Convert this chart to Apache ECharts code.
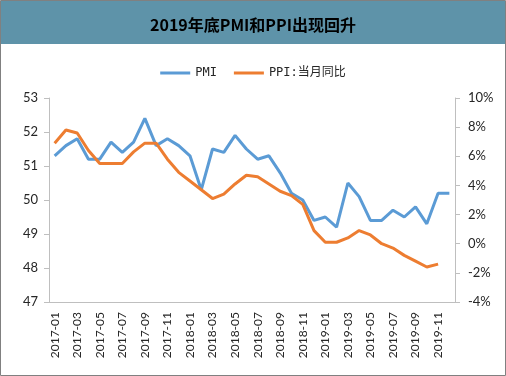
<!DOCTYPE html>
<html>
<head>
<meta charset="utf-8">
<script src="https://cdn.jsdelivr.net/npm/echarts@6/dist/echarts.min.js"></script>
<style>
  html, body { margin: 0; padding: 0; background: #fff; }
  #main { width: 506px; height: 376px; }
</style>
</head>
<body>
<div id="main"></div>
<script>
// months 2017-01 .. 2019-12
const months = []
for (let y = 2017; y <= 2019; y++) {
  for (let m = 1; m <= 12; m++) months.push(y + '-' + (m < 10 ? '0' + m : m))
}

const pmi = [
  51.3, 51.6, 51.8, 51.2, 51.2, 51.7, 51.4, 51.7, 52.4, 51.6, 51.8, 51.6,
  51.3, 50.3, 51.5, 51.4, 51.9, 51.5, 51.2, 51.3, 50.8, 50.2, 50.0, 49.4,
  49.5, 49.2, 50.5, 50.1, 49.4, 49.4, 49.7, 49.5, 49.8, 49.3, 50.2, 50.2
]

// PPI 当月同比 (%), ends at 2019-11
const ppi = [
  6.9, 7.8, 7.6, 6.4, 5.5, 5.5, 5.5, 6.3, 6.9, 6.9, 5.8, 4.9,
  4.3, 3.7, 3.1, 3.4, 4.1, 4.7, 4.6, 4.1, 3.6, 3.3, 2.7, 0.9,
  0.1, 0.1, 0.4, 0.9, 0.6, 0.0, -0.3, -0.8, -1.2, -1.6, -1.4
]

const chart = echarts.init(document.getElementById('main'))

const axisFont = { fontFamily: 'Lato', fontSize: 13, color: '#262626' }

const option = {
  animation: false,
  graphic: [
    {
      type: 'rect',
      shape: { x: 1, y: 1, width: 504, height: 43 },
      style: { fill: '#5E93A9' },
      silent: true
    },
    {
      type: 'rect',
      shape: { x: 0.5, y: 0.5, width: 505, height: 375 },
      style: { fill: 'none', stroke: '#808080', lineWidth: 1 },
      silent: true
    }
  ],
  title: {
    text: '2019年底PMI和PPI出现回升',
    left: 'center',
    top: 12,
    textStyle: {
      fontFamily: 'Noto Sans CJK SC',
      fontWeight: 'bold',
      fontSize: 16,
      color: '#000'
    }
  },
  legend: {
    top: 62,
    left: 'center',
    itemWidth: 30,
    itemHeight: 3,
    itemGap: 17,
    icon: 'rect',
    textStyle: {
      fontFamily: '"DejaVu Sans Mono", "Noto Sans CJK SC"',
      fontSize: 12,
      color: '#262626'
    },
    data: ['PMI', 'PPI:当月同比']
  },
  grid: {
    left: 49,
    right: 51,
    top: 98,
    bottom: 74,
    containLabel: false
  },
  xAxis: {
    type: 'category',
    data: months,
    boundaryGap: true,
    axisLine: { onZero: false, lineStyle: { color: '#BFBFBF' } },
    axisTick: { interval: 1, length: 5, lineStyle: { color: '#BFBFBF' } },
    axisLabel: {
      interval: 1,
      rotate: 90,
      margin: 10,
      fontFamily: 'Lato',
      fontSize: 12,
      color: '#262626'
    },
    splitLine: { show: false }
  },
  yAxis: [
    {
      type: 'value',
      min: 47,
      max: 53,
      interval: 1,
      axisLine: { show: true, lineStyle: { color: '#BFBFBF' } },
      axisTick: { show: true, length: 5, lineStyle: { color: '#BFBFBF' } },
      axisLabel: Object.assign({ margin: 11 }, axisFont),
      splitLine: { show: false }
    },
    {
      type: 'value',
      min: -4,
      max: 10,
      interval: 2,
      axisLine: { show: true, lineStyle: { color: '#BFBFBF' } },
      axisTick: { show: true, length: 5, lineStyle: { color: '#BFBFBF' } },
      axisLabel: Object.assign({ margin: 13, formatter: '{value}%' }, axisFont),
      splitLine: { show: false }
    }
  ],
  series: [
    {
      name: 'PMI',
      type: 'line',
      data: pmi,
      showSymbol: false,
      symbol: 'none',
      lineStyle: { width: 3, color: '#5B9BD5' },
      itemStyle: { color: '#5B9BD5' }
    },
    {
      name: 'PPI:当月同比',
      type: 'line',
      yAxisIndex: 1,
      data: ppi,
      showSymbol: false,
      symbol: 'none',
      lineStyle: { width: 3, color: '#ED7D31' },
      itemStyle: { color: '#ED7D31' }
    }
  ]
}

chart.setOption(option)
</script>
</body>
</html>
